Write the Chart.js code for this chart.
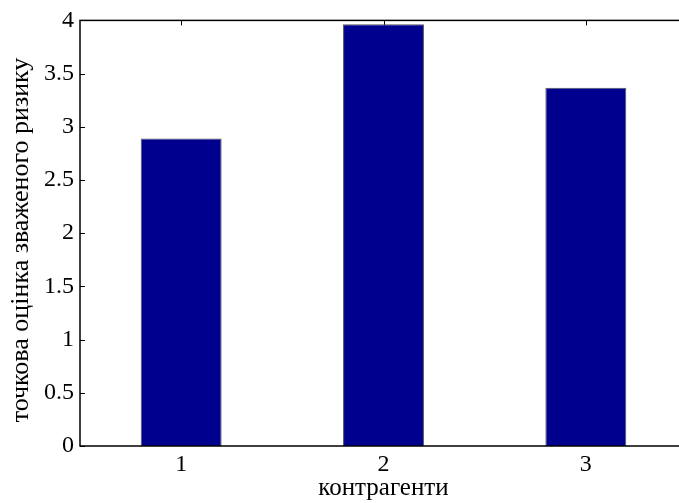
<!DOCTYPE html>
<html>
<head>
<meta charset="utf-8">
<script src="https://cdn.jsdelivr.net/npm/chart.js@4"></script>
<style>
  html, body { margin: 0; padding: 0; background: #fff; overflow: hidden; }
  #wrap { width: 690px; height: 503px; }
</style>
</head>
<body>
<div id="wrap"><canvas id="chart" width="690" height="503"></canvas></div>
<script>
// データ
const categories = ['1', '2', '3'];
const riskValues = [2.89, 3.963, 3.367];
const yTicks = [0, 0.5, 1, 1.5, 2, 2.5, 3, 3.5, 4];
const xTitle = 'контрагенти';
const yTitle = 'точкова оцінка зваженого ризику';

const FONT = '"Liberation Serif", "Times New Roman", serif';

// MATLAB風の枠と内向きの目盛り
const frameTicks = {
    id: 'frameTicks',
    beforeDatasetsDraw(chart) {
        const { ctx, chartArea: a, scales } = chart;
        ctx.save();
        ctx.strokeStyle = '#000';
        ctx.lineWidth = 1;
        ctx.beginPath();
        yTicks.forEach(v => {
            const y = Math.round(scales.y.getPixelForValue(v)) + 0.5;
            ctx.moveTo(a.left, y); ctx.lineTo(a.left + 5, y);
            ctx.moveTo(a.right, y); ctx.lineTo(a.right - 5, y);
        });
        categories.forEach((c, i) => {
            const x = Math.round(scales.x.getPixelForValue(i)) + 0.5;
            ctx.moveTo(x, a.top); ctx.lineTo(x, a.top + 5);
            ctx.moveTo(x, a.bottom); ctx.lineTo(x, a.bottom - 5);
        });
        ctx.stroke();
        ctx.restore();
    },
    afterDatasetsDraw(chart) {
        const { ctx, chartArea: a } = chart;
        ctx.save();
        ctx.strokeStyle = '#000';
        ctx.lineWidth = 1.5;
        ctx.strokeRect(a.left, a.top, a.right - a.left, a.bottom - a.top);
        // 縦軸タイトル
        ctx.translate(28, 240);
        ctx.rotate(-Math.PI / 2);
        ctx.fillStyle = '#000';
        ctx.font = '26px ' + FONT;
        ctx.textAlign = 'center';
        ctx.textBaseline = 'alphabetic';
        ctx.fillText(yTitle, 0, 0);
        ctx.restore();
    }
};

new Chart(document.getElementById('chart'), {
    type: 'bar',
    data: {
        labels: categories,
        datasets: [{
            data: riskValues,
            backgroundColor: '#00008f',
            borderColor: '#555',
            borderWidth: 1,
            barPercentage: 0.4,
            categoryPercentage: 1.0
        }]
    },
    options: {
        responsive: false,
        animation: false,
        layout: { padding: { top: 18, right: 3, left: 0, bottom: 0 } },
        plugins: { legend: { display: false }, tooltip: { enabled: false } },
        scales: {
            x: {
                grid: { display: false, drawTicks: false },
                border: { display: false },
                ticks: { color: '#000', font: { family: FONT, size: 24 }, padding: 4, maxRotation: 0 },
                title: { display: true, text: xTitle, color: '#000', font: { family: FONT, size: 25 }, padding: { top: -4, bottom: 0 } },
                afterFit(scale) { scale.height = 57; }
            },
            y: {
                min: 0,
                max: 4,
                afterBuildTicks(scale) { scale.ticks = yTicks.map(v => ({ value: v })); },
                grid: { display: false, drawTicks: false },
                border: { display: false },
                ticks: {
                    color: '#000', font: { family: FONT, size: 24 }, padding: 6,
                    callback: v => String(v)
                },
                afterFit(scale) { scale.width = 80; }
            }
        }
    },
    plugins: [frameTicks]
});
</script>
</body>
</html>
